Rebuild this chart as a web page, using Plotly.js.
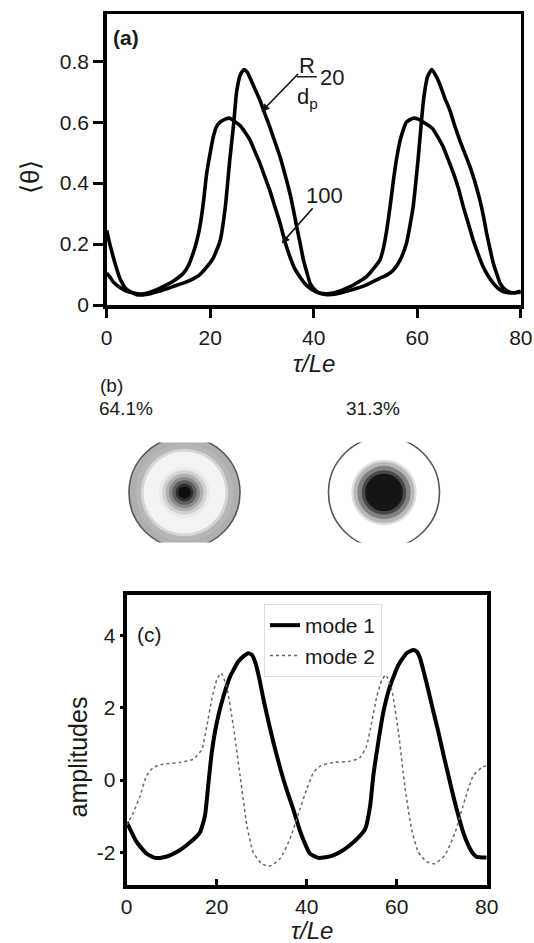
<!DOCTYPE html>
<html>
<head>
<meta charset="utf-8">
<script src="https://cdn.plot.ly/plotly-3.0.1.min.js"></script>
<style>html,body{margin:0;padding:0;background:#fff;}#plot{width:534px;height:943px;}</style>
</head>
<body>
<div id="plot"></div>
<script>
// ---------- Panel (a): <theta> vs tau/Le for R/dp = 20 and 100 ----------
const tauA20 = [0,0.6,1.3,2,2.6,3.5,4.5,5.8,7,8.4,10,11.6,13.2,14.8,16.7,18,19.3,20.6,21.9,22.9,23.8,24.5,25.1,25.8,26.5,27.1,27.7,28.6,29.6,30.5,31.5,32.5,33.5,34.5,35.4,36.1,36.7,37.4,38,38.7,39.3,40.2,41.2,42.5,44,47,50.2,52.8,54.1,55.4,56.7,57.9,59.2,60.2,61.2,62,62.8,63.5,64.3,65.3,66.3,67.2,68.2,69.2,70.2,71.2,72.1,72.8,73.4,74.1,74.7,75.4,76,76.8,77.6,78.5,79.3,80];
const thetaA20 = [0.245,0.2,0.155,0.115,0.085,0.058,0.044,0.034,0.033,0.037,0.045,0.053,0.063,0.072,0.086,0.1,0.124,0.155,0.21,0.32,0.48,0.59,0.7,0.755,0.773,0.765,0.745,0.71,0.672,0.63,0.585,0.535,0.486,0.425,0.366,0.31,0.257,0.2,0.148,0.105,0.071,0.05,0.038,0.034,0.035,0.048,0.066,0.088,0.098,0.115,0.148,0.202,0.322,0.486,0.672,0.75,0.773,0.755,0.727,0.68,0.639,0.59,0.541,0.497,0.453,0.4,0.344,0.29,0.235,0.18,0.136,0.1,0.071,0.053,0.044,0.04,0.042,0.045];
const tauA100 = [0,0.7,1.3,2.5,3.8,5,6.2,7.5,8.4,10,11.6,13.2,14.8,15.8,16.7,17.4,18,18.7,19.3,20,20.6,21.2,21.9,22.9,23.8,24.5,25.7,26.7,27.7,28.6,29.6,30.5,31.5,32.5,33.5,34.4,35.4,36.3,37.3,38.3,39.3,40.3,41.2,42.5,44,47,50.2,52.8,53.5,54.1,54.8,55.4,56,56.7,57.3,57.9,59.2,60.2,61.2,62.9,64,65,66,67,68,68.9,69.9,70.8,71.8,72.7,73.7,74.7,75.6,76.6,77.6,78.5,80];
const thetaA100 = [0.105,0.09,0.075,0.058,0.046,0.04,0.036,0.038,0.042,0.053,0.066,0.082,0.104,0.13,0.17,0.21,0.257,0.34,0.43,0.5,0.552,0.585,0.6,0.61,0.613,0.605,0.59,0.568,0.541,0.505,0.465,0.423,0.377,0.322,0.268,0.21,0.158,0.12,0.093,0.07,0.055,0.045,0.039,0.037,0.04,0.06,0.093,0.148,0.19,0.246,0.33,0.41,0.48,0.541,0.575,0.6,0.613,0.61,0.6,0.58,0.55,0.519,0.476,0.432,0.38,0.322,0.265,0.213,0.165,0.126,0.095,0.071,0.055,0.044,0.04,0.04,0.042];
const xTicksA = [0,20,40,60,80];
const xTickTextA = ['0','20','40','60','80'];
const yTicksA = [0,0.2,0.4,0.6,0.8];
const yTickTextA = ['0','0.2','0.4','0.6','0.8'];

// ---------- Panel (b): POD mode shapes (ring radii as fraction of outer radius) ----------
const modePct = ['64.1%','31.3%'];
const ringR1 = [1,0.88,0.79,0.74,0.46,0.40,0.34,0.28,0.22,0.16,0.11];
const ringC1 = ['#8e8e8e','#b9b9b9','#e2e2e2','#ffffff','#e6e6e6','#c6c6c6','#a2a2a2','#7a7a7a','#4a4a4a','#1c1c1c','#000000'];
const ringR2 = [1,0.59,0.55,0.48,0.40,0.34];
const ringC2 = ['#ffffff','#d0d0d0','#a8a8a8','#6a6a6a','#303030','#000000'];

// ---------- Panel (c): amplitudes of mode 1 and mode 2 ----------
const tauC1 = [0,2.2,4.4,6.3,8,9.6,11.5,13.3,15,16.3,17.4,18.1,18.9,20,21.5,23,24.8,26,27,27.8,28.5,29.4,30.4,31.5,32.6,33.7,34.8,35.9,37,38.5,39.6,40.7,42.6,44.2,45.9,47.8,49.6,51.4,53,54.1,54.8,55.9,57,58.5,60.4,62.2,63.7,64.5,65.2,66,67,68.1,69.3,70.4,71.5,72.6,73.7,74.8,75.9,76.9,77.8,80];
const ampC1 = [-1.16,-1.71,-2.03,-2.15,-2.14,-2.08,-1.96,-1.8,-1.62,-1.44,-0.98,-0.16,0.76,1.58,2.32,2.87,3.28,3.43,3.51,3.47,3.28,2.85,2.23,1.62,1.04,0.52,0.03,-0.4,-0.8,-1.4,-1.75,-2.03,-2.15,-2.13,-2.08,-1.96,-1.8,-1.6,-1.35,-0.71,0.12,1.04,1.86,2.59,3.19,3.51,3.6,3.55,3.37,3.0,2.5,1.92,1.31,0.7,0.12,-0.45,-0.98,-1.45,-1.8,-2.02,-2.12,-2.14];
const tauC2 = [0,1.5,3,4.4,5.9,8.1,11.8,14.8,16.7,17.8,18.9,20,21,22.2,23.7,25.2,26.7,28.1,30,31.8,34.1,36.3,38.5,40,41.5,43,45.9,49.6,51.8,53.3,54.4,55.6,56.7,57.6,58.9,60.4,61.8,63.3,64.8,66.7,68.5,70.7,73,75.2,77,78.9,80];
const ampC2 = [-1.25,-0.89,-0.43,0.12,0.35,0.44,0.49,0.58,0.85,1.49,2.23,2.77,2.96,2.59,1.49,0.12,-1.25,-1.99,-2.31,-2.38,-2.17,-1.62,-0.8,-0.25,0.21,0.39,0.49,0.52,0.62,0.94,1.58,2.32,2.77,2.91,2.5,1.31,-0.16,-1.35,-1.99,-2.26,-2.31,-2.08,-1.44,-0.52,0.12,0.35,0.4];
const yTicksC = [-2,0,2,4];
const yTickTextC = ['-2','0','2','4'];
const seriesNamesC = ['mode 1','mode 2'];

// ---------- geometry helpers (page is 534 x 943) ----------
const W = 534, H = 943;
const px = v => v / W;
const py = v => 1 - v / H;
const FONT = 'Liberation Sans, Arial, sans-serif';
const INK = '#1a1a1a';
const circleDiam = 111;

function ringTrace(xpos, radii, colors, xa, ya) {
  return {
    type: 'scatter', mode: 'markers', xaxis: xa, yaxis: ya,
    x: radii.map(() => xpos), y: radii.map(() => 0),
    marker: {
      symbol: 'circle', size: radii.map(r => r * circleDiam), color: colors,
      line: {color: '#111', width: radii.map((r, i) => i === 0 ? 1.6 : 0)}
    },
    hoverinfo: 'skip', showlegend: false
  };
}

const data = [
  {type:'scatter', mode:'lines', x: tauA20, y: thetaA20, xaxis:'x', yaxis:'y',
   line:{color:'#000', width:3.6, shape:'spline', smoothing:0.5}, showlegend:false, hoverinfo:'skip'},
  {type:'scatter', mode:'lines', x: tauA100, y: thetaA100, xaxis:'x', yaxis:'y',
   line:{color:'#000', width:3.6, shape:'spline', smoothing:0.5}, showlegend:false, hoverinfo:'skip'},
  ringTrace(1, ringR1, ringC1, 'x3', 'y3'),
  ringTrace(2, ringR2, ringC2, 'x3', 'y3'),
  {type:'scatter', mode:'lines', name: seriesNamesC[0], x: tauC1, y: ampC1, xaxis:'x2', yaxis:'y2',
   line:{color:'#000', width:4, shape:'spline', smoothing:0.5}, hoverinfo:'skip'},
  {type:'scatter', mode:'lines', name: seriesNamesC[1], x: tauC2, y: ampC2, xaxis:'x2', yaxis:'y2',
   line:{color:'#666', width:1.5, dash:'dot', shape:'spline', smoothing:0.5}, hoverinfo:'skip'}
];

const axBase = {showgrid:false, zeroline:false, showline:true, linecolor:'#000', fixedrange:true,
  tickcolor:'#000', tickfont:{family:FONT, size:21, color:INK}};

function note(text, x, y, size, extra) {
  return Object.assign({text:text, xref:'paper', yref:'paper', x:x, y:y, showarrow:false,
    xanchor:'center', yanchor:'middle', font:{size:size}}, extra || {});
}

const layout = {
  width: W, height: H,
  margin: {l:0, r:0, t:0, b:0, pad:0},
  paper_bgcolor:'#fff', plot_bgcolor:'rgba(0,0,0,0)',
  font: {family: FONT, color: INK},
  showlegend: true,
  legend: {x: px(264), y: py(604), xanchor:'left', yanchor:'top',
    bgcolor:'#fff', bordercolor:'#dcdcdc', borderwidth:1,
    font:{family:FONT, size:21, color:INK}, itemwidth:30, tracegroupgap:0},
  // panel (a)
  xaxis: Object.assign({}, axBase, {domain:[px(106.7), px(520.8)], range:[0,80], anchor:'y',
    tickmode:'array', tickvals:xTicksA, ticktext:xTickTextA, ticks:'outside', ticklen:9, tickwidth:3,
    ticklabelstandoff:2, linewidth:3.5, mirror:true}),
  yaxis: Object.assign({}, axBase, {domain:[py(305), py(14)], range:[0,0.955], anchor:'x',
    tickmode:'array', tickvals:yTicksA, ticktext:yTickTextA, ticks:'outside', ticklen:10, tickwidth:3,
    linewidth:3.5, mirror:true}),
  xaxis5: Object.assign({}, axBase, {overlaying:'x', anchor:'y', range:[0,80], showline:false,
    tickmode:'array', tickvals:xTicksA, ticks:'inside', ticklen:8, tickwidth:3, showticklabels:false}),
  yaxis5: Object.assign({}, axBase, {overlaying:'y', anchor:'x', range:[0,0.955], showline:false,
    tickmode:'array', tickvals:yTicksA, ticks:'inside', ticklen:10, tickwidth:3, showticklabels:false}),
  // panel (c)
  xaxis2: Object.assign({}, axBase, {domain:[px(126.7), px(486.7)], range:[0,80], anchor:'y2',
    tickmode:'array', tickvals:xTicksA, ticktext:xTickTextA, ticks:'inside', ticklen:6, tickwidth:3,
    ticklabelstandoff:0, linewidth:4, mirror:true}),
  yaxis2: Object.assign({}, axBase, {domain:[py(885), py(595)], range:[-2.9,5.12], anchor:'x2',
    tickmode:'array', tickvals:yTicksC, ticktext:yTickTextC, ticks:'outside', ticklen:3, tickwidth:3,
    linewidth:4, mirror:true}),
  // panel (b) hidden axes for mode shapes
  xaxis3: {domain:[0,1], range:[0.0752, 2.7519], anchor:'y3', visible:false, fixedrange:true},
  yaxis3: {domain:[py(542.5), py(442.5)], range:[-1,1], anchor:'x3', visible:false, fixedrange:true},
  shapes: [
    {type:'line', xref:'x', yref:'y', x0:36.7, x1:40.6, y0:0.749, y1:0.749, line:{color:'#222', width:1.6}}
  ],
  annotations: [
    note('<b>(a)</b>', px(125.5), py(37.5), 21),
    note('⟨θ⟩', px(30), py(177), 26, {textangle:-90}),
    note('<i>τ/Le</i>', px(314), py(363), 24, {borderpad:0}),
    // "R" over "d_p" with arrow pointing to the R/dp = 20 curve
    {text:'R', xref:'x', yref:'y', axref:'x', ayref:'y', x:29.9, y:0.634, ax:38.6, ay:0.787,
     showarrow:true, arrowhead:2, arrowsize:1, arrowwidth:1.6, arrowcolor:'#111',
     xanchor:'center', yanchor:'middle', borderpad:0, font:{size:22}},
    {text:'d<sub>p</sub>', xref:'x', yref:'y', x:38.8, y:0.68, showarrow:false, xanchor:'center', yanchor:'middle', font:{size:22}},
    {text:'20', xref:'x', yref:'y', x:43.5, y:0.747, showarrow:false, xanchor:'center', yanchor:'middle', font:{size:22}},
    // "100" with arrow pointing to the R/dp = 100 curve
    {text:'100', xref:'x', yref:'y', axref:'x', ayref:'y', x:33.8, y:0.202, ax:42, ay:0.36,
     showarrow:true, arrowhead:2, arrowsize:1, arrowwidth:1.6, arrowcolor:'#111',
     xanchor:'center', yanchor:'middle', borderpad:0, font:{size:22}},
    // panel (b)
    note('(b)', px(99), py(397), 19, {xanchor:'left', yanchor:'bottom', borderpad:0}),
    note(modePct[0], px(98), py(397), 19, {xanchor:'left', yanchor:'top', borderpad:0}),
    note(modePct[1], px(372.5), py(397), 19, {yanchor:'top', borderpad:0}),
    // panel (c)
    note('(c)', px(149), py(634), 21),
    note('amplitudes', px(77.5), py(757), 25, {textangle:-90}),
    note('<i>τ/Le</i>', px(312), py(930), 24, {borderpad:0})
  ]
};

Plotly.newPlot('plot', data, layout, {staticPlot:true, displayModeBar:false});
</script>
</body>
</html>
